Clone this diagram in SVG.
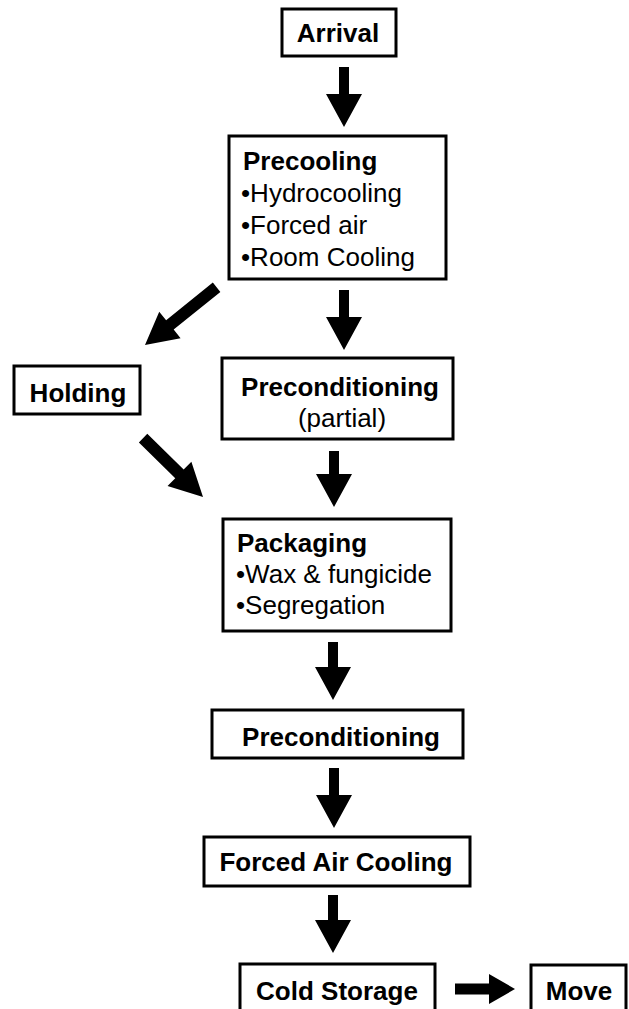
<svg xmlns="http://www.w3.org/2000/svg" width="629" height="1009" viewBox="0 0 629 1009">
<style>
.box{fill:#fff;stroke:#000;stroke-width:3}
.t{font-family:"Liberation Sans",Arial,sans-serif;font-size:26px;fill:#000}
.b{font-weight:bold}
.m{text-anchor:middle}
.arr{fill:#000}
</style>
<rect width="629" height="1009" fill="#fff"/>
<g id="connectors">
<polygon class="arr" points="-60,-5 -33,-5 -33,-18 0,0 -33,18 -33,5 -60,5" transform="translate(344,127) rotate(90)"/>
<polygon class="arr" points="-60,-5 -33,-5 -33,-18 0,0 -33,18 -33,5 -60,5" transform="translate(344,350) rotate(90)"/>
<polygon class="arr" points="-56,-5 -33,-5 -33,-18 0,0 -33,18 -33,5 -56,5" transform="translate(334,507) rotate(90)"/>
<polygon class="arr" points="-58,-5 -33,-5 -33,-18 0,0 -33,18 -33,5 -58,5" transform="translate(333,700) rotate(90)"/>
<polygon class="arr" points="-60,-5 -33,-5 -33,-18 0,0 -33,18 -33,5 -60,5" transform="translate(334,828) rotate(90)"/>
<polygon class="arr" points="-58,-5 -33,-5 -33,-18 0,0 -33,18 -33,5 -58,5" transform="translate(333,953) rotate(90)"/>
<polygon class="arr" points="-92,-6 -32,-6 -32,-17 0,0 -32,17 -32,6 -92,6" transform="translate(145,345) rotate(141.1)"/>
<polygon class="arr" points="-84,-6 -33,-6 -33,-17 0,0 -33,17 -33,6 -84,6" transform="translate(203,497) rotate(44.5)"/>
<polygon class="arr" points="-60,-5.5 -26,-5.5 -26,-15 0,0 -26,15 -26,5.5 -60,5.5" transform="translate(515,989)"/>
</g>
<g id="arrival">
<rect class="box" x="282" y="9" width="114" height="47"/>
<text class="t b m" x="338" y="42" font-size="25">Arrival</text>
</g>
<g id="precooling">
<rect class="box" x="229" y="136" width="217" height="143"/>
<text class="t b" x="243" y="170">Precooling</text>
<text class="t" x="241" y="202">•Hydrocooling</text>
<text class="t" x="241" y="234">•Forced air</text>
<text class="t" x="241" y="266">•Room Cooling</text>
</g>
<g id="holding">
<rect class="box" x="14" y="366" width="126" height="48"/>
<text class="t b m" x="78" y="402" font-size="25">Holding</text>
</g>
<g id="preconditioning-partial">
<rect class="box" x="222" y="358" width="231" height="81"/>
<text class="t b m" x="340" y="396">Preconditioning</text>
<text class="t m" x="342" y="427">(partial)</text>
</g>
<g id="packaging">
<rect class="box" x="223" y="519" width="228" height="112"/>
<text class="t b" x="237" y="552">Packaging</text>
<text class="t" x="236" y="583">•Wax &amp; fungicide</text>
<text class="t" x="236" y="614">•Segregation</text>
</g>
<g id="preconditioning">
<rect class="box" x="212" y="710" width="251" height="48"/>
<text class="t b m" x="341" y="746">Preconditioning</text>
</g>
<g id="forced-air-cooling">
<rect class="box" x="204" y="837" width="266" height="49"/>
<text class="t b m" x="336" y="871">Forced Air Cooling</text>
</g>
<g id="cold-storage">
<rect class="box" x="240" y="964" width="195" height="60"/>
<text class="t b m" x="337" y="1000">Cold Storage</text>
</g>
<g id="move">
<rect class="box" x="531" y="965" width="95" height="60"/>
<text class="t b m" x="579" y="1000">Move</text>
</g>
</svg>
